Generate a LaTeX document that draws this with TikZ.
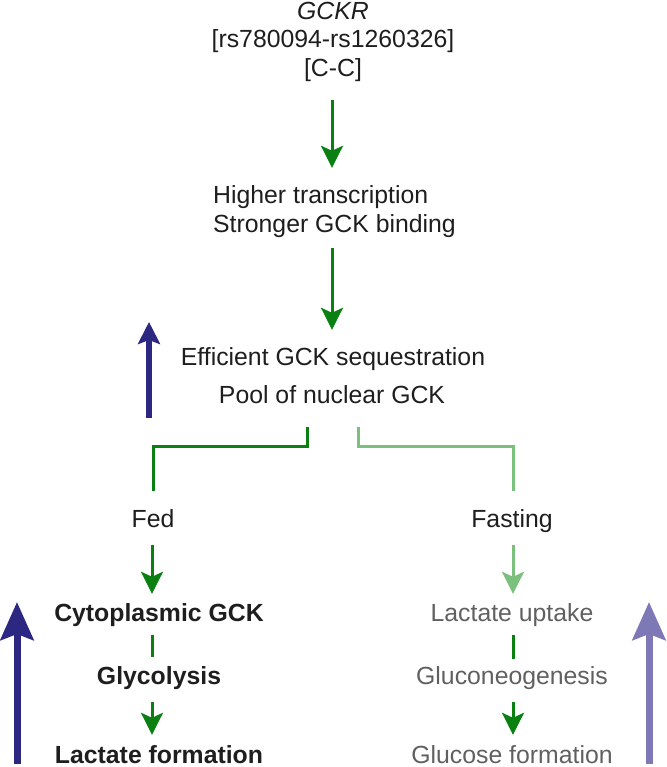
\documentclass[tikz,border=0pt]{standalone}
\usepackage{fontspec}
\setmainfont{Liberation Sans}
\usetikzlibrary{arrows.meta}
\definecolor{dgreen}{HTML}{0A7F12}
\definecolor{lgreen}{HTML}{7CC07E}
\definecolor{dblue}{HTML}{2C2882}
\definecolor{lpurple}{HTML}{7E78B6}
\definecolor{txt}{HTML}{1E1E1E}
\definecolor{gtxt}{HTML}{606060}
\tikzset{
  lbl/.style={inner sep=0pt, anchor=base, text=txt, font=\fontsize{24.8}{29}\selectfont, text height=18pt, text depth=5pt},
  lblw/.style={lbl, anchor=base west},
  bold/.style={lbl, font=\fontsize{24.8}{29}\selectfont\bfseries},
  grey/.style={lbl, text=gtxt},
  garrow/.style={draw=dgreen, line width=3pt, -{Stealth[length=22pt, width=22pt, inset=5pt]}},
  larrow/.style={draw=lgreen, line width=3pt, -{Stealth[length=22pt, width=22pt, inset=5pt]}},
  gline/.style={draw=dgreen, line width=3pt},
  lline/.style={draw=lgreen, line width=3pt},
  bigarrow/.style={line width=7pt, -{Stealth[length=38pt, width=33pt, inset=6pt]}},
  midarrow/.style={line width=5.5pt, -{Stealth[length=22pt, width=22pt, inset=4pt]}}
}
\begin{document}
\begin{tikzpicture}[x=1pt, y=-1pt]
\useasboundingbox (0,0) rectangle (666,767);
% texts
\node[lbl, font=\fontsize{24.8}{29}\selectfont\itshape] (gckr) at (333,19.5) {GCKR};
\node[lbl] (rs) at (333,48) {[rs780094-rs1260326]};
\node[lbl] (cc) at (333,77) {[C-C]};
\node[lblw] (ht1) at (213,204) {Higher transcription};
\node[lblw] (ht2) at (213,232) {Stronger GCK binding};
\node[lbl] (eff) at (333,365) {Efficient GCK sequestration};
\node[lbl] (pool) at (332,403) {Pool of nuclear GCK};
\node[lbl] (fed) at (153,527) {Fed};
\node[lbl] (fast) at (512,527) {Fasting};
\node[bold] (cyto) at (159,621) {Cytoplasmic GCK};
\node[bold] (glyc) at (159,684) {Glycolysis};
\node[bold] (lact) at (159,763) {Lactate formation};
\node[grey] (lup) at (512,621) {Lactate uptake};
\node[grey] (gng) at (512,684) {Gluconeogenesis};
\node[grey] (glu) at (512,763) {Glucose formation};
% helper points
\coordinate (brL) at (307,427);
\coordinate (brR) at (358,427);
% main arrows
\draw[garrow, shorten <=18pt, shorten >=18pt] ([xshift=-1pt]cc.south) -- ([xshift=-1pt]cc.south |- ht1.north);
\draw[garrow, shorten <=11pt, shorten >=17pt] (ht2.south -| eff) ++(-1pt,0) -- ([xshift=-1pt]eff.north);
% brackets
\draw[gline] (brL) -- ++(0,19.5) -| (fed.north |- 0,491);
\draw[lline] (brR) -- ++(0,19.5) -| ([xshift=1pt]fast.north |- 0,491);
% Fed branch
\draw[garrow, shorten <=13pt, shorten >=9pt] ([xshift=-1pt]fed.south) -- ([xshift=-1pt]fed.south |- cyto.north);
\draw[gline] ([xshift=-7pt]cyto.south |- 0,635) -- ([xshift=-7pt]cyto.south |- 0,657);
\draw[garrow, shorten <=13pt, shorten >=10pt] ([xshift=-7pt]glyc.south) -- ([xshift=-7pt]glyc.south |- lact.north);
% Fasting branch
\draw[larrow, shorten <=13pt, shorten >=9pt] ([xshift=1pt]fast.south) -- ([xshift=1pt]fast.south |- lup.north);
\draw[gline] ([xshift=1pt]lup.south |- 0,635) -- ([xshift=1pt]lup.south |- 0,659);
\draw[garrow, shorten <=13pt, shorten >=10pt] ([xshift=1pt]gng.south) -- ([xshift=1pt]gng.south |- glu.north);
% blue indicator arrows
\draw[midarrow, draw=dblue, fill=dblue] (149,418) -- (149,322);
\draw[bigarrow, draw=dblue, fill=dblue] (17,764) -- (17,602);
\draw[bigarrow, draw=lpurple, fill=lpurple] (649,764) -- (649,602);
\end{tikzpicture}
\end{document}
